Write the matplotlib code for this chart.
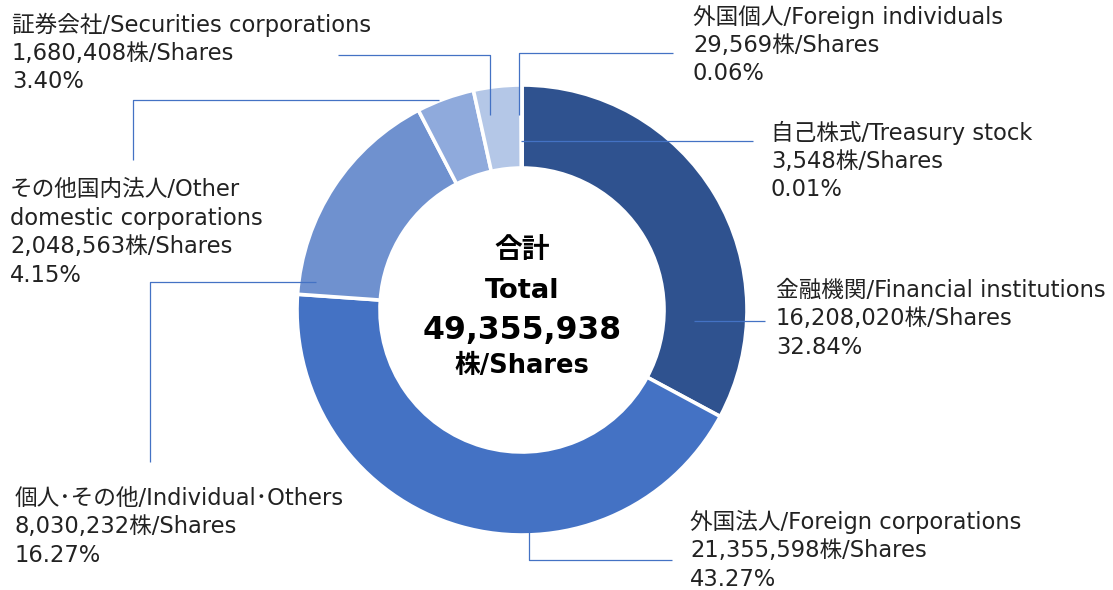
import matplotlib
matplotlib.use("Agg")
import matplotlib.pyplot as plt

plt.rcParams['font.family'] = ['DejaVu Sans', 'Noto Sans CJK JP']

# Shareholder composition, clockwise from 12 o'clock
names_jp = ["自己株式", "金融機関", "外国法人", "個人･その他", "その他国内法人", "証券会社", "外国個人"]
names_en = ["Treasury stock", "Financial institutions", "Foreign corporations",
            "Individual･Others", "Other domestic corporations", "Securities corporations",
            "Foreign individuals"]
shares = [3548, 16208020, 21355598, 8030232, 2048563, 1680408, 29569]
colors = ["#2F528F", "#2F528F", "#4472C4", "#6F91CF", "#8FAADC", "#B4C7E7", "#B4C7E7"]

total = sum(shares)

W, H = 1113, 590
fig = plt.figure(figsize=(W / 100, H / 100), dpi=100)
ax = fig.add_axes([0, 0, 1, 1])


def Y(y):
    # screen-style y (from the top) to data y
    return H - y


cx, cy, R, ring = 522, Y(310), 225, 83
ax.pie(shares, colors=colors, startangle=90, counterclock=False,
       center=(cx, cy), radius=R,
       wedgeprops=dict(width=ring, edgecolor="white", linewidth=2.6))
ax.set_xlim(0, W)
ax.set_ylim(0, H)
ax.set_aspect("equal")
ax.axis("off")

LINE = "#4472C4"
TXT = "#222222"
FS = 16.3
STEP = 28.5

# leader polylines (screen coordinates) and label anchors, in data order
leaders = [
    [(521, 141), (753, 141)],
    [(694, 321), (765, 321)],
    [(529, 507), (529, 560), (672, 560)],
    [(150, 462), (150, 282), (316, 282)],
    [(133, 160), (133, 100), (439, 100)],
    [(338, 55), (490, 55), (490, 115)],
    [(673, 53), (519, 53), (519, 115)],
]
anchors = [(771, 133), (776, 290), (690, 522), (15, 498), (10, 190), (12, 25), (693, 17)]

for i, pts in enumerate(leaders):
    xs = [p[0] for p in pts]
    ys = [Y(p[1]) for p in pts]
    ax.plot(xs, ys, color=LINE, lw=0.9, solid_capstyle="butt")

for i, (jp, en, n) in enumerate(zip(names_jp, names_en, shares)):
    name = f"{jp}/{en}"
    if en == "Other domestic corporations":
        name_lines = [f"{jp}/Other", "domestic corporations"]
    else:
        name_lines = [name]
    lines = name_lines + [f"{n:,}株/Shares", f"{n / total * 100:.2f}%"]
    x0, y0 = anchors[i]
    for k, s in enumerate(lines):
        ax.text(x0, Y(y0 + k * STEP), s, fontsize=FS, color=TXT,
                ha="left", va="center")

# centre caption
ax.text(cx, Y(250), "合計", fontsize=20, fontweight="bold", ha="center", va="center", color="black")
ax.text(cx, Y(291), "Total", fontsize=19.7, fontweight="bold", ha="center", va="center", color="black")
ax.text(cx, Y(331), f"{total:,}", fontsize=22.7, fontweight="bold", ha="center", va="center", color="black")
ax.text(cx, Y(366), "株/Shares", fontsize=18.5, fontweight="bold", ha="center", va="center", color="black")

fig.savefig("out.png", dpi=100, facecolor="white")
